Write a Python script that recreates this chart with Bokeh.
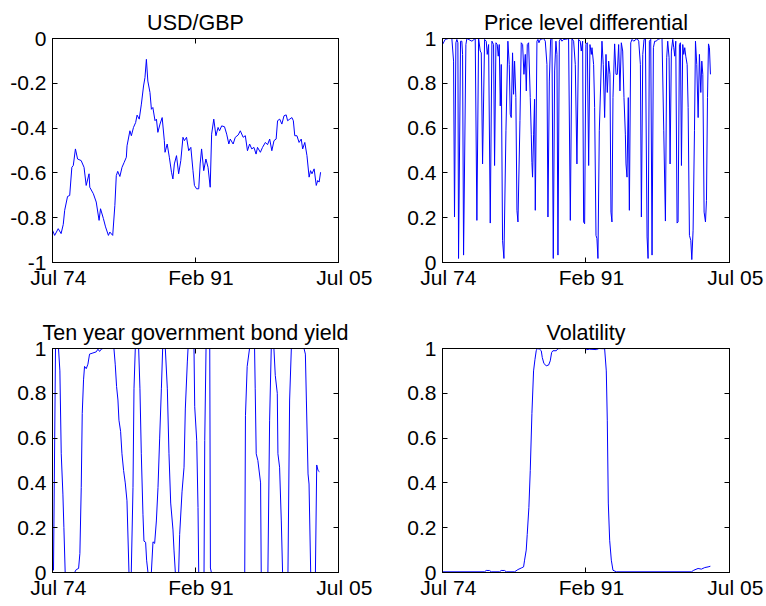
from bokeh.plotting import figure
from bokeh.layouts import column, row
from bokeh.models import (Range1d, FixedTicker, LinearAxis, NumeralTickFormatter,
                          CustomLabelingPolicy)
from bokeh.embed import file_html
from bokeh.resources import INLINE

# ---------------------------------------------------------------- data
# observation number (monthly, 1 = Jul 1974)
x_tick_obs = [1, 200, 400]
x_tick_labels = ["Jul 74", "Feb 91", "Jul 05"]

usd_gbp_obs = [1, 4, 9, 13, 16, 18, 22, 25, 28, 30, 33, 36, 41, 45, 48, 52, 53, 58, 62, 66,
               68, 72, 75, 79, 81, 85, 88, 90, 92, 95, 98, 101, 104, 105, 109, 111, 114, 117, 119, 122,
               125, 128, 130, 132, 134, 137, 139, 141, 144, 146, 148, 151, 154, 157, 158, 161, 164, 167, 169, 171,
               174, 177, 180, 183, 185, 188, 191, 194, 197, 199, 202, 205, 207, 209, 212, 215, 218, 221, 223, 226,
               229, 232, 234, 237, 241, 244, 247, 249, 253, 256, 260, 263, 267, 270, 273, 276, 279, 282, 285, 287,
               291, 294, 298, 301, 304, 307, 310, 313, 315, 318, 321, 324, 327, 329, 332, 335, 337, 339, 342, 345,
               348, 350, 353, 356, 359, 361, 363, 366, 369, 371, 373, 375]
usd_gbp = [-0.856, -0.879, -0.849, -0.871, -0.830, -0.767, -0.705, -0.701, -0.575, -0.567,
           -0.493, -0.538, -0.545, -0.575, -0.656, -0.604, -0.664, -0.693, -0.730, -0.812,
           -0.760, -0.804, -0.841, -0.879, -0.864, -0.879, -0.745, -0.612, -0.593, -0.616,
           -0.575, -0.553, -0.530, -0.479, -0.412, -0.434, -0.397, -0.375, -0.342, -0.360,
           -0.293, -0.212, -0.175, -0.093, -0.190, -0.241, -0.316, -0.308, -0.367, -0.360,
           -0.419, -0.382, -0.353, -0.456, -0.508, -0.471, -0.530, -0.597, -0.627, -0.560,
           -0.523, -0.604, -0.545, -0.441, -0.456, -0.441, -0.501, -0.486, -0.590, -0.656,
           -0.671, -0.671, -0.560, -0.493, -0.590, -0.538, -0.575, -0.664, -0.427, -0.360,
           -0.434, -0.397, -0.412, -0.390, -0.394, -0.427, -0.471, -0.449, -0.471, -0.441,
           -0.431, -0.412, -0.441, -0.434, -0.501, -0.471, -0.493, -0.486, -0.516, -0.486,
           -0.508, -0.486, -0.464, -0.474, -0.449, -0.501, -0.456, -0.449, -0.367, -0.360,
           -0.382, -0.345, -0.341, -0.367, -0.360, -0.353, -0.367, -0.434, -0.434, -0.464,
           -0.449, -0.493, -0.464, -0.523, -0.619, -0.590, -0.604, -0.582, -0.656, -0.634,
           -0.641, -0.597]

price_obs = [1.0, 4.8, 9.4, 14.0, 16.4, 17.7, 19.6, 21.0, 22.4, 23.3,
             26.1, 27.9, 28.9, 30.3, 33.5, 34.9, 41.9, 46.5, 48.8, 51.2,
             53.5, 54.9, 56.7, 59.5, 61.8, 63.2, 65.1, 67.4, 69.7, 72.0,
             73.4, 75.3, 77.1, 78.5, 79.9, 81.3, 82.7, 84.5, 86.4, 89.2,
             91.9, 93.8, 95.2, 96.6, 98.4, 99.8, 101.2, 103.0, 104.5, 105.9,
             108.7, 110.5, 112.4, 114.2, 116.1, 117.5, 118.9, 120.7, 123.0, 124.4,
             125.3, 126.2, 127.7, 129.0,
             130.0, 132.3, 133.7, 135.1, 136.9, 141.6, 143.9, 146.2, 147.6, 149.5,
             151.3, 153.2, 155.0, 156.9, 158.7, 160.1, 161.5, 163.4, 165.2, 167.1,
             169.4, 171.7, 176.3, 178.7, 181.0, 183.3, 185.6, 187.9, 190.2, 192.5,
             193.9, 195.8, 197.2, 198.6, 200.4, 202.3, 204.2, 206.0, 207.9, 208.8,
             211.1, 212.5, 214.4, 215.7, 217.1, 219.0, 222.7, 224.5, 226.4, 228.3,
             230.1, 232.0, 233.8, 235.2, 236.6, 238.0, 240.3, 242.2, 244.0, 245.9,
             247.7, 249.6, 251.5, 253.3, 255.2, 256.1, 257.5, 259.3,
             260.8, 262.7, 264.5, 266.8, 271.5, 273.8, 276.1, 277.5, 279.4, 281.2,
             283.1, 285.4, 286.8, 288.6, 290.5, 292.3, 294.2, 296.0, 297.9, 300.7,
             303.9, 306.2, 308.6, 310.9, 312.7, 314.1, 316.0, 317.4, 319.2, 321.1,
             322.5, 323.9, 325.3, 327.1, 328.5, 330.4, 331.8, 333.2, 335.0, 336.4,
             337.8, 339.2, 341.1, 342.5, 344.3, 346.2, 347.6, 349.4, 351.3, 352.7,
             354.5, 356.4, 358.2, 360.1, 361.5, 362.9, 364.7, 366.6, 368.0, 369.4,
             370.8, 372.1, 373.5]
price_diff = [0.973, 0.996, 1.0, 1.0, 0.899, 0.203, 0.981, 0.996, 0.981, 0.018,
              0.988, 0.988, 0.929, 0.033, 0.973, 1.0, 0.988, 1.0, 0.188, 1.0,
              0.944, 0.936, 0.44, 0.996, 0.988, 0.929, 0.973, 0.176, 0.988, 0.973,
              0.433, 0.981, 0.973, 0.921, 0.973, 0.699, 0.884, 0.099, 0.018, 0.588,
              0.988, 0.884, 0.662, 0.647, 0.936, 0.751, 0.899, 0.736, 0.233, 0.181,
              0.633, 0.981, 0.973, 0.84, 0.929, 0.766, 0.973, 0.981, 0.736, 0.573,
              0.447, 0.381, 0.573, 0.729,
              0.233, 0.988, 0.996, 0.981, 0.996, 1.0, 0.988, 0.884, 0.203, 0.81,
              0.996, 1.0, 0.018, 0.855, 0.988, 0.929, 0.033, 0.988, 1.0, 0.988,
              0.996, 0.996, 1.0, 0.188, 1.0, 0.988, 0.884, 0.44, 0.996, 0.988,
              0.944, 0.988, 0.181, 0.173, 0.973, 0.981, 0.433, 0.973, 0.929, 0.959,
              0.884, 0.692, 0.121, 0.107, 0.018, 0.588, 0.988, 0.884, 0.647, 0.929,
              0.759, 0.899, 0.84, 0.225, 0.181, 0.736, 0.976, 0.84, 0.84, 0.973,
              0.766, 0.981, 0.944, 0.736, 0.573, 0.44, 0.381, 0.736,
              0.233, 0.981, 0.996, 0.988, 1.0, 0.988, 0.884, 0.203, 0.929, 0.996,
              1.0, 0.114, 0.018, 0.988, 0.996, 0.033, 0.959, 0.988, 0.988, 0.996,
              1.0, 1.0, 0.588, 0.185, 0.914, 0.988, 0.914, 0.44, 0.944, 0.996,
              0.959, 0.921, 0.988, 0.176, 0.181, 0.973, 0.981, 0.433, 0.973, 0.929,
              0.959, 0.921, 0.884, 0.692, 0.121, 0.099, 0.013, 0.144, 0.588, 0.988,
              0.884, 0.647, 0.929, 0.759, 0.899, 0.84, 0.225, 0.181, 0.277, 0.736,
              0.976, 0.959, 0.84]

bond_obs = [1, 2.4, 5.2, 9.4, 11.3, 13.2, 15.5, 16.9, 18.7, 31.8,
            34.1, 37.4, 39.2, 41.1, 42.5, 44.3, 45.7, 48.1, 50.4, 52.7,
            57.4, 62.0, 64.4, 66.7, 69.0, 71.3, 86.7, 88.5, 90.4, 92.3,
            93.7, 96.0, 97.9, 100.2, 102.5, 104.9, 107.7, 110.9, 113.3, 114.7,
            116.5, 121.2, 123.0, 124.9, 127.2, 128.6, 130.9, 132.3, 134.2, 138.9,
            141.2, 143.5, 145.9, 148.2, 150.5, 152.9, 154.7, 158.4, 161.2, 163.5,
            165.9, 169.1, 170.5, 172.4, 177.0, 178.4, 181.7, 184.5, 186.3, 189.1,
            190.1, 198.4, 199.4, 202.2, 204.0, 205.0, 212.4, 213.4, 215.2, 220.4,
            221.3, 222.7, 269.2, 270.2, 272.6, 275.9, 282.9, 283.8, 285.2, 287.5,
            291.3, 292.2, 301.5, 303.9, 306.2, 309.9, 311.8, 314.6, 315.5, 317.8,
            320.2, 322.0, 329.5, 331.8, 334.2, 351.9, 353.8, 355.2, 357.5, 358.9,
            361.2, 367.8, 369.6, 371.5, 373.4]
bond_yield = [0.055, 0.01, 1.0, 1.0, 0.90, 0.53, 0.35, 0.20, 0.0, 0.0,
              0.013, 0.018, 0.085, 0.38, 0.71, 0.86, 0.92, 0.91, 0.93, 0.975,
              0.98, 0.985, 0.997, 0.987, 0.997, 1.0, 1.0, 0.93, 0.83, 0.77,
              0.68, 0.63, 0.53, 0.455, 0.40, 0.32, 0.0, 0.0, 0.38, 0.82,
              1.0, 1.0, 0.82, 0.53, 0.26, 0.14, 0.135, 0.055, 0.0, 0.0,
              0.137, 0.13, 0.23, 0.38, 0.60, 0.82, 1.0, 1.0, 0.82, 0.53,
              0.31, 0.19, 0.10, 0.0, 0.0, 0.17, 0.36, 0.47, 0.73, 0.94,
              1.0, 1.0, 0.74, 0.59, 0.29, 0.0, 0.0, 0.59, 1.0, 1.0,
              0.02, 0.0, 0.0, 0.70, 0.92, 1.0, 1.0, 0.82, 0.53, 0.50,
              0.40, 0.0, 0.0, 0.68, 1.0, 1.0, 0.88, 0.80, 0.53, 0.47,
              0.23, 0.0, 0.0, 0.77, 1.0, 1.0, 0.975, 0.77, 0.44, 0.395,
              0.0, 0.0, 0.48, 0.455, 0.45]

vol_obs = [1, 59.4, 61.8, 66.4, 68.7, 80.3, 82.6, 87.3, 89.6, 101.2,
           105.8, 110.5, 113.7, 115.1, 117.4, 118.8, 121.1, 123.0, 125.3, 127.6,
           129.5, 131.3, 132.7, 136.0, 138.3, 139.7, 142.0, 145.2, 148.5, 150.8,
           152.7, 154.5, 159.2, 161.5, 166.1, 198.6, 200.9, 205.5, 214.8, 218.5,
           226.4, 228.7, 230.1, 231.5, 233.4, 235.7, 238.0, 242.7, 347.0, 350.3,
           356.3, 360.9, 365.6, 370.2, 373.4]
volatility = [0.003, 0.003, 0.009, 0.009, 0.003, 0.003, 0.009, 0.009, 0.003, 0.003,
              0.013, 0.02, 0.025, 0.055, 0.10, 0.17, 0.29, 0.455, 0.71, 0.90,
              0.95, 0.99, 1.0, 0.997, 0.99, 0.96, 0.933, 0.923, 0.926, 0.945,
              0.982, 0.99, 0.99, 0.999, 1.0, 1.0, 0.995, 0.997, 0.995, 1.0,
              0.999, 0.90, 0.68, 0.31, 0.144, 0.055, 0.01, 0.003, 0.003, 0.01,
              0.018, 0.015, 0.022, 0.025, 0.028]

# ---------------------------------------------------------------- styling
FONT = "Liberation Sans"
FS = "21px"
NBSP = "\u00a0"

# mirror axes (top / right) carry tick marks only: no label is drawn
NO_LABELS = CustomLabelingPolicy(code="""
    const ids = [...indices]
    for (const i of ids) indices.unset(i)
    return indices
""")


def style_axis(ax, ticks, show_labels, label_map=None, fmt=None, standoff=6):
    ax.ticker = FixedTicker(ticks=ticks)
    ax.axis_line_color = "black"
    ax.axis_line_width = 1
    ax.major_tick_line_color = "black"
    ax.major_tick_in = 5
    ax.major_tick_out = 0
    ax.minor_tick_line_color = None
    ax.major_label_text_font = FONT
    ax.major_label_text_color = "black"
    if show_labels:
        ax.major_label_text_font_size = FS
        ax.major_label_standoff = standoff
        if fmt is not None:
            ax.formatter = fmt
        if label_map is not None:
            ax.major_label_overrides = label_map
    else:
        ax.major_label_text_font_size = "0px"
        ax.major_label_policy = NO_LABELS
        ax.major_label_standoff = 0


def panel(title, xs, ys, y_lo, y_hi, width, height, left, right, top, bottom):
    p = figure(width=width, height=height, output_backend="svg", toolbar_location=None,
               x_range=Range1d(1, 400), y_range=Range1d(y_lo, y_hi),
               x_axis_location=None, y_axis_location=None,
               min_border_left=left, min_border_right=right,
               min_border_top=top, min_border_bottom=bottom,
               background_fill_color="white", border_fill_color="white")
    p.grid.visible = False
    p.outline_line_color = "black"
    p.outline_line_width = 1

    y_ticks = [round(y_lo + 0.2 * i, 1) for i in range(6)]
    xlab = {t: NBSP * 2 + s for t, s in zip(x_tick_obs, x_tick_labels)}

    bx = LinearAxis()
    style_axis(bx, x_tick_obs, True, label_map=xlab, standoff=3)
    p.add_layout(bx, "below")
    tx = LinearAxis()
    style_axis(tx, x_tick_obs, False)
    p.add_layout(tx, "above")
    ly = LinearAxis()
    style_axis(ly, y_ticks, True, fmt=NumeralTickFormatter(format="0.[0]"), standoff=6)
    p.add_layout(ly, "left")
    ry = LinearAxis()
    style_axis(ry, y_ticks, False)
    p.add_layout(ry, "right")

    p.title.text = title
    p.title.align = "center"
    p.title.text_font = FONT
    p.title.text_font_size = "21.5px"
    p.title.text_font_style = "normal"
    p.title.text_color = "black"
    p.title.standoff = 7

    p.line(xs, ys, line_color="#0000ff", line_width=1)
    return p


p1 = panel("USD/GBP", usd_gbp_obs, usd_gbp, -1, 0, 391, 310, 52, 53, 38, 48)
p2 = panel("Price level differential", price_obs, price_diff, 0, 1, 375, 310, 51, 37, 38, 48)
p3 = panel("Ten year government bond yield", bond_obs, bond_yield, 0, 1, 391, 296, 52, 53, 38, 34)
p4 = panel("Volatility", vol_obs, volatility, 0, 1, 375, 296, 51, 37, 38, 34)

layout = column(row(p1, p2), row(p3, p4))

with open("out.html", "w") as f:
    f.write(file_html(layout, INLINE))
